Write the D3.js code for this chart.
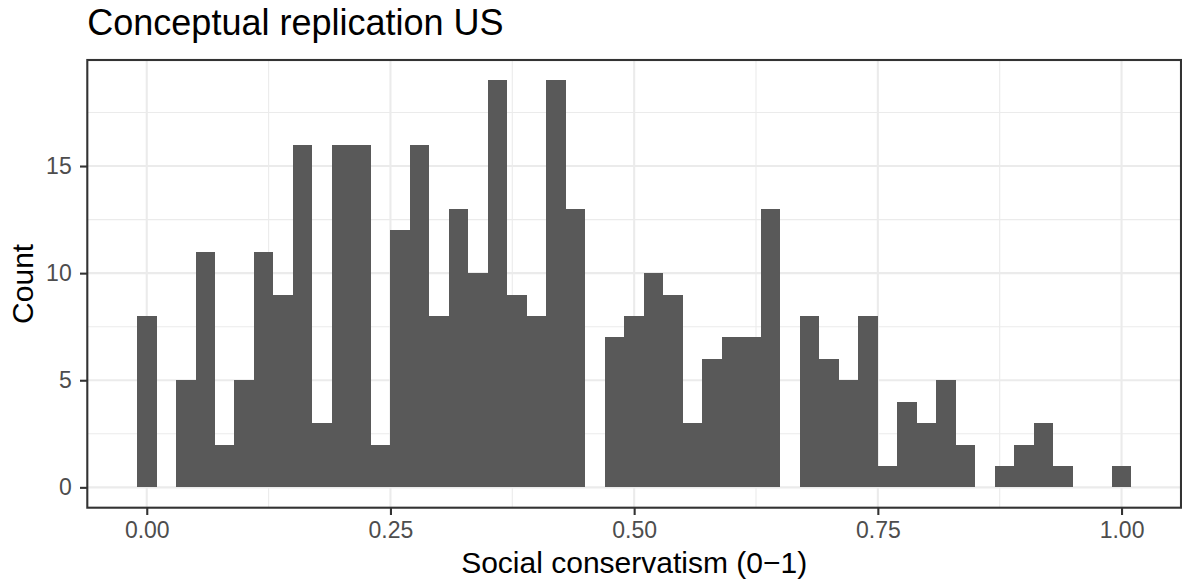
<!DOCTYPE html>
<html>
<head>
<meta charset="utf-8">
<script src="https://cdn.jsdelivr.net/npm/d3@7"></script>
<style>
  body { margin: 0; background: #fff; }
  svg { display: block; }
  text { font-family: "Liberation Sans", Arial, Helvetica, sans-serif; }
</style>
</head>
<body>
<svg id="chart" width="1182" height="585"></svg>
<script>
// Histogram bins (centre of each 0.02-wide bin) and the respondent count in each
const binCenters = [
  0.00, 0.02, 0.04, 0.06, 0.08, 0.10, 0.12, 0.14, 0.16, 0.18,
  0.20, 0.22, 0.24, 0.26, 0.28, 0.30, 0.32, 0.34, 0.36, 0.38,
  0.40, 0.42, 0.44, 0.46, 0.48, 0.50, 0.52, 0.54, 0.56, 0.58,
  0.60, 0.62, 0.64, 0.66, 0.68, 0.70, 0.72, 0.74, 0.76, 0.78,
  0.80, 0.82, 0.84, 0.86, 0.88, 0.90, 0.92, 0.94, 0.96, 0.98,
  1.00
];
const counts = [
  8, 0, 5, 11, 2, 5, 11, 9, 16, 3,
  16, 16, 2, 12, 16, 8, 13, 10, 19, 9,
  8, 19, 13, 0, 7, 8, 10, 9, 3, 6,
  7, 7, 13, 0, 8, 6, 5, 8, 1, 4,
  3, 5, 2, 0, 1, 2, 3, 1, 0, 0,
  1
];
const binWidth = 0.02;

const xTicks = [0, 0.25, 0.5, 0.75, 1];
const xTickLabels = ["0.00", "0.25", "0.50", "0.75", "1.00"];
const xMinorTicks = [0.125, 0.375, 0.625, 0.875];
const yTicks = [0, 5, 10, 15];
const yMinorTicks = [2.5, 7.5, 12.5, 17.5];

const titleText = "Conceptual replication US";
const xTitle = "Social conservatism (0\u22121)";
const yTitle = "Count";

// Panel geometry
const panel = { left: 87.3, right: 1181, top: 60, bottom: 507.7 };

const svg = d3.select("#chart");

// ggplot-style 5% expansion around the data range
const xLo = binCenters[0] - binWidth / 2, xHi = binCenters[binCenters.length - 1] + binWidth / 2;
const xPad = (xHi - xLo) * 0.05;
const x = d3.scaleLinear().domain([xLo - xPad, xHi + xPad]).range([panel.left, panel.right]);
const yMax = d3.max(counts);
const y = d3.scaleLinear().domain([-yMax * 0.05, yMax * 1.05]).range([panel.bottom, panel.top]);

const gridColor = "#EBEBEB";
const inkColor = "#333333";
const barColor = "#595959";

// Panel background
svg.append("rect")
  .attr("x", panel.left).attr("y", panel.top)
  .attr("width", panel.right - panel.left).attr("height", panel.bottom - panel.top)
  .attr("fill", "#fff");

const grid = svg.append("g");
// Minor grid
grid.selectAll(".vminor").data(xMinorTicks).join("line")
  .attr("x1", d => x(d)).attr("x2", d => x(d))
  .attr("y1", panel.top).attr("y2", panel.bottom)
  .attr("stroke", gridColor).attr("stroke-width", 1.1);
grid.selectAll(".hminor").data(yMinorTicks).join("line")
  .attr("y1", d => y(d)).attr("y2", d => y(d))
  .attr("x1", panel.left).attr("x2", panel.right)
  .attr("stroke", gridColor).attr("stroke-width", 1.1);
// Major grid
grid.selectAll(".vmajor").data(xTicks).join("line")
  .attr("x1", d => x(d)).attr("x2", d => x(d))
  .attr("y1", panel.top).attr("y2", panel.bottom)
  .attr("stroke", gridColor).attr("stroke-width", 2.1);
grid.selectAll(".hmajor").data(yTicks).join("line")
  .attr("y1", d => y(d)).attr("y2", d => y(d))
  .attr("x1", panel.left).attr("x2", panel.right)
  .attr("stroke", gridColor).attr("stroke-width", 2.1);

// Histogram bars, snapped to whole pixels so neighbouring bars join without seams
svg.append("g")
  .attr("shape-rendering", "crispEdges")
  .selectAll("rect")
  .data(binCenters.map((c, i) => ({ c, n: counts[i] })).filter(d => d.n > 0))
  .join("rect")
  .attr("x", d => x(d.c - binWidth / 2))
  .attr("width", d => x(d.c + binWidth / 2) - x(d.c - binWidth / 2))
  .attr("y", d => y(d.n))
  .attr("height", d => y(0) - y(d.n))
  .attr("fill", barColor);

// Panel border
svg.append("rect")
  .attr("x", panel.left).attr("y", panel.top)
  .attr("width", panel.right - panel.left).attr("height", panel.bottom - panel.top)
  .attr("fill", "none").attr("stroke", inkColor).attr("stroke-width", 2.1);

// Axes
const tickFont = 23;
const xAxis = svg.append("g")
  .attr("transform", `translate(0,${panel.bottom})`)
  .call(d3.axisBottom(x).tickValues(xTicks).tickFormat((d, i) => xTickLabels[i])
    .tickSize(7.3).tickPadding(7));
const yAxis = svg.append("g")
  .attr("transform", `translate(${panel.left},0)`)
  .call(d3.axisLeft(y).tickValues(yTicks).tickFormat(d3.format("d"))
    .tickSize(7.3).tickPadding(8.3));
[xAxis, yAxis].forEach(a => {
  a.select(".domain").remove();
  a.selectAll(".tick line").attr("stroke", inkColor).attr("stroke-width", 2.1);
  a.selectAll(".tick text")
    .attr("fill", "#4D4D4D")
    .style("font-size", tickFont + "px")
    .style("font-family", '"Liberation Sans", Arial, Helvetica, sans-serif');
});

// Axis titles
svg.append("text")
  .attr("x", (panel.left + panel.right) / 2).attr("y", 573.3)
  .attr("text-anchor", "middle")
  .style("font-size", "30px").attr("fill", "#000")
  .text(xTitle);
svg.append("text")
  .attr("transform", `translate(33,${(panel.top + panel.bottom) / 2}) rotate(-90)`)
  .attr("text-anchor", "middle")
  .style("font-size", "30px").attr("fill", "#000")
  .text(yTitle);

// Plot title
svg.append("text")
  .attr("x", panel.left).attr("y", 34.5)
  .style("font-size", "36px").attr("fill", "#000")
  .text(titleText);
</script>
</body>
</html>
